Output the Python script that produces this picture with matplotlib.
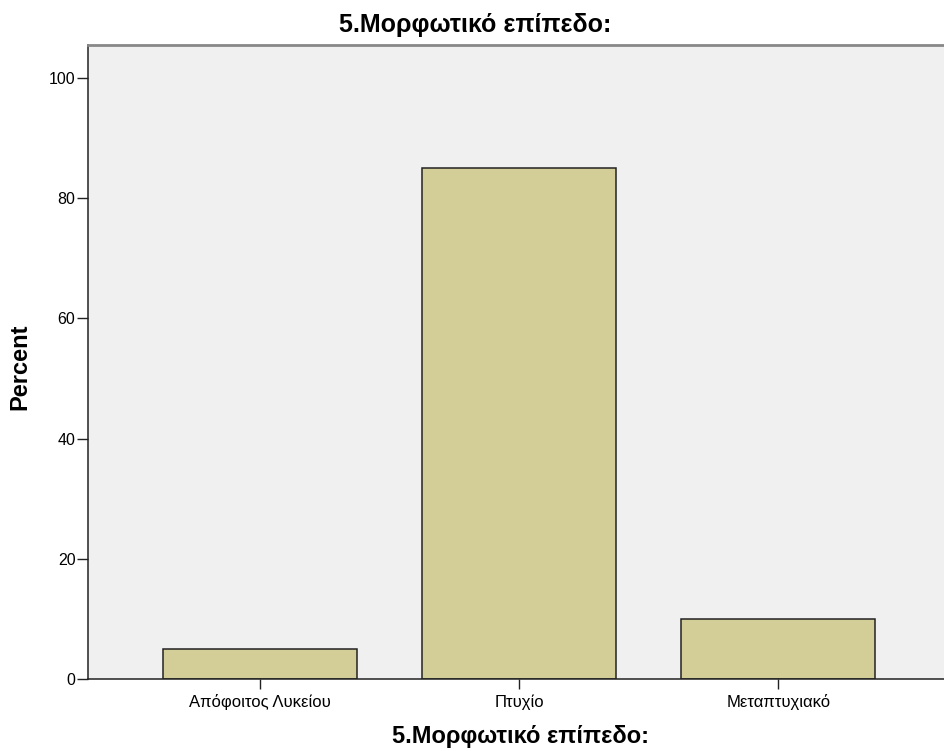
import matplotlib
matplotlib.use("Agg")
import matplotlib.pyplot as plt
import numpy as np

plt.rcParams['font.family'] = ['Liberation Sans', 'DejaVu Sans']

categories = ["Απόφοιτος Λυκείου", "Πτυχίο", "Μεταπτυχιακό"]
percent = [5, 85, 10]
yticks = [0, 20, 40, 60, 80, 100]
title = "5.Μορφωτικό επίπεδο:"

fig = plt.figure(figsize=(9.44, 7.51), dpi=100)
ax = fig.add_axes([88 / 944, 72 / 751, 1 - 88 / 944, (679 - 45) / 751])
ax.set_facecolor("#f0f0f0")

x = np.arange(len(categories))
ax.bar(x, percent, width=0.75, color="#d3ce97", edgecolor="#222222", linewidth=1.1, zorder=2)

ax.set_xlim(-0.664, 2.64)
ax.set_ylim(0, 105.5)
ax.set_xticks(x)
ax.set_xticklabels(categories, fontsize=12)
ax.set_yticks(yticks)
ax.set_yticklabels([str(v) for v in yticks], fontsize=11.5)
ax.tick_params(axis='y', length=8, width=1, pad=1, color="#222222")
ax.tick_params(axis='x', length=7, width=1, pad=4, color="#222222")

ax.spines["right"].set_visible(False)
ax.spines["top"].set_color("#888888")
ax.spines["top"].set_linewidth(2)
for s in ["left", "bottom"]:
    ax.spines[s].set_color("#222222")
    ax.spines[s].set_linewidth(1.1)

# labels placed by hand like the SPSS output
fig.text(20 / 944, 1 - 367 / 751, "Percent", rotation=90, ha="center", va="center",
         fontsize=17, fontweight="bold")
fig.text(520 / 944, 1 - 737 / 751, title, ha="center", va="center",
         fontsize=17, fontweight="bold")
fig.text(475 / 944, 1 - 25 / 751, title, ha="center", va="center",
         fontsize=18, fontweight="bold")

fig.savefig("out.png", dpi=100)
